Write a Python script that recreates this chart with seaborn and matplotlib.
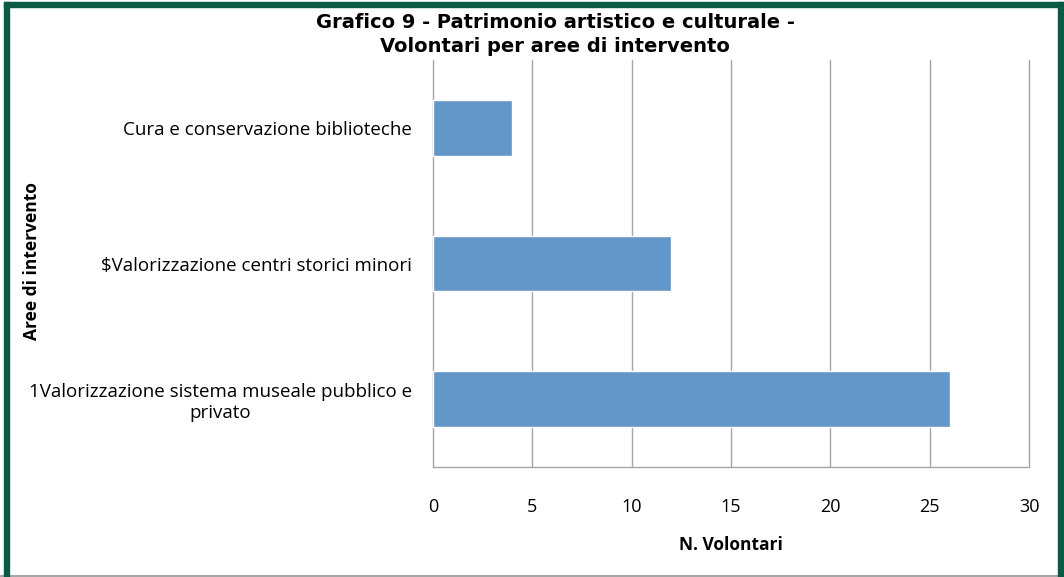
import matplotlib
matplotlib.use("Agg")
import matplotlib.pyplot as plt
import seaborn as sns
import pandas as pd
from matplotlib.patches import Rectangle
from matplotlib.lines import Line2D

categories = [
    "Cura e conservazione biblioteche",
    "$Valorizzazione centri storici minori",
    "1Valorizzazione sistema museale pubblico e\nprivato",
]
values = [4, 12, 26]
xticks = [0, 5, 10, 15, 20, 25, 30]

sns.set_theme(style="white")
plt.rcParams['font.family'] = ['Open Sans', 'DejaVu Sans']
plt.rcParams['text.color'] = 'black'
plt.rcParams['xtick.color'] = 'black'
plt.rcParams['ytick.color'] = 'black'
plt.rcParams['axes.labelcolor'] = 'black'

df = pd.DataFrame({"area": categories, "n": values})

fig = plt.figure(figsize=(10.64, 5.77), dpi=100)
ax = fig.add_axes([433/1064, 1-467/577, (1029-433)/1064, (467-60)/577])

sns.barplot(data=df, y="area", x="n", orient="h", color="#6396C9",
            width=0.41, ax=ax, saturation=1)

ax.set_xlim(0, 30)
ax.set_xticks(xticks)
ax.set_xticklabels([str(t) for t in xticks], fontsize=13)
ax.grid(axis="x", color="#A6A6A6", linewidth=1.0)
ax.set_axisbelow(True)
for gl in ax.get_xgridlines():
    gl.set_clip_on(False)
for s in ["top", "right", "left"]:
    ax.spines[s].set_visible(False)
ax.spines["bottom"].set_color("#A6A6A6")
ax.spines["bottom"].set_linewidth(1.0)
ax.tick_params(axis="x", direction="out", length=7, width=1.0, color="#A6A6A6",
               labelcolor="black", pad=15)
ax.tick_params(axis="y", length=0, pad=15, labelcolor="black")
labels = [l.replace("$", r"\$") for l in categories]
ax.set_yticks(range(len(categories)))
ax.set_yticklabels(labels, fontsize=13.5, multialignment="center")
ax.set_xlabel("N. Volontari", fontsize=12.5, fontweight="bold", labelpad=15)
ax.set_ylabel("")
fig.text(32/1064, 1-261/577, "Aree di intervento", rotation=90, ha="center", va="center",
         fontsize=12.5, fontweight="bold")

fig.text(555/1064, 1-22/577, "Grafico 9 - Patrimonio artistico e culturale -",
         ha="center", va="center", fontsize=14, fontweight="bold", family=["DejaVu Sans"])
fig.text(555/1064, 1-46/577, "Volontari per aree di intervento",
         ha="center", va="center", fontsize=14, fontweight="bold", family=["DejaVu Sans"])

# frame
green = "#0B5A45"
fig.add_artist(Rectangle((4/1064, 0), 5/1064, 1-2/577, transform=fig.transFigure, color=green, zorder=10))
fig.add_artist(Rectangle((4/1064, 1-7/577), (1063-4)/1064, 5/577, transform=fig.transFigure, color=green, zorder=10))
fig.add_artist(Rectangle((1058/1064, 0), 6/1064, 1-2/577, transform=fig.transFigure, color=green, zorder=10))
fig.add_artist(Line2D([0, 1], [1/577, 1/577], transform=fig.transFigure, color="#A6A6A6", linewidth=1.5))

fig.savefig("out.png", dpi=100)
